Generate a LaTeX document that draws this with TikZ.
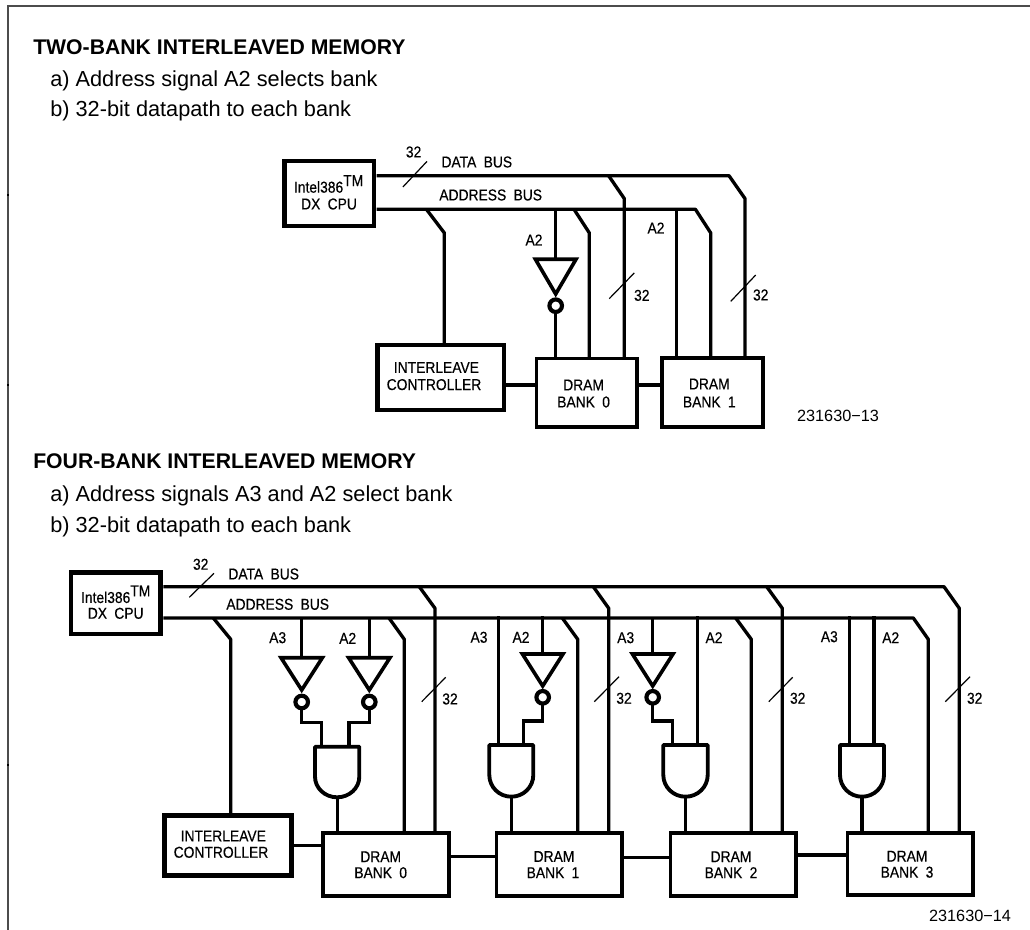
\documentclass[tikz,border=0pt]{standalone}
\usepackage{fontspec}
\setmainfont{Liberation Sans}
\newfontfamily\figfam[FakeBold=0.35,FakeStretch=0.88,WordSpace=1.9]{Liberation Sans}
\usetikzlibrary{calc}
\tikzset{
  thickbox/.style={draw=black,line width=3.4pt,rectangle,inner sep=0pt,align=center,fill=white},
  bankbox/.style={draw=black,line width=2.9pt,rectangle,inner sep=0pt,fill=white},
  bus/.style={draw=black,line width=2.5pt,line join=round},
  wire/.style={draw=black,line width=2.3pt,line join=miter},
  tick/.style={draw=black,line width=0.9pt},
  lbl/.style={font=\figfont,inner sep=0pt,text=black},
  head/.style={font=\headfont,anchor=base west,inner sep=0pt},
  sub/.style={font=\subfont,anchor=base west,inner sep=0pt},
  ref/.style={font=\reffont,inner sep=0pt},
  tri/.style={draw=black,line width=2.7pt,line join=miter,fill=white},
  bub/.style={draw=black,circle,line width=3.1pt,fill=white,minimum size=9.4pt,inner sep=0pt},
  andg/.style={draw=black,line width=2.9pt,line join=round,fill=white},
}
\newcommand{\figfont}{\figfam\fontsize{11.8}{13}\selectfont}
\newcommand{\headfont}{\fontsize{15.9}{18}\bfseries\selectfont}
\newcommand{\subfont}{\fontsize{16.3}{18}\selectfont}
\newcommand{\reffont}{\fontsize{12.2}{13}\selectfont}
\newcommand{\inverter}[6]{%
  \coordinate (#1in) at (#2,#3);
  \path[tri] (#2-#4,#3) -- (#2+#4,#3) -- (#2,#5) -- cycle;
  \node[bub] (#1b) at (#2,#6) {};
}
\newcommand{\andgate}[6]{%
  \path[andg] (#2,#4) -- (#3,#4) -- (#3,#5) arc[start angle=0,end angle=180,x radius={(#3-#2)/2},y radius={#6-#5}] -- cycle;
  \coordinate (#1out) at ($(#2,#6)!0.5!(#3,#6)$);
}
\begin{document}
\begin{tikzpicture}[x=0.75pt,y=-0.75pt]
\useasboundingbox (0,0) rectangle (1030,930);
\draw[color=black!70,line width=1.1pt] (8,930) -- (8,6) -- (1030,6);
\foreach \yy in {195,385,765} \draw[black,line width=0.8pt] (7,\yy) -- (9,\yy);

\node[head] (h1) at (33,55) {TWO-BANK INTERLEAVED MEMORY};
\node[sub] (h1a) at (50,87) {a) Address signal A2 selects bank};
\node[sub] (h1b) at (50,117) {b) 32-bit datapath to each bank};
\node[head] (h2) at (33,468) {FOUR-BANK INTERLEAVED MEMORY};
\node[sub] (h2a) at (50,501) {a) Address signals A3 and A2 select bank};
\node[sub] (h2b) at (50,532) {b) 32-bit datapath to each bank};

% ---------- two-bank ----------
\coordinate (dA) at (376.5,175.7);
\coordinate (aA) at (376.5,209.3);
\coordinate (dA1) at (608.6,175.7);
\coordinate (dA2) at (729,175.7);
\coordinate (aA0) at (426.4,209.3);
\coordinate (aA1) at (555.7,209.3);
\coordinate (aA2) at (574,209.3);
\coordinate (aA3) at (676.4,209.3);
\coordinate (aA4) at (695.4,209.3);
\coordinate (linkA) at (0,385);
\draw[bus] (dA) -- (dA2) -- (745,198.6) -- (745,357);
\draw[bus] (dA1) -- (624.3,198.6) -- (624.3,357);
\draw[bus] (aA) -- (aA4) -- (710.7,232.9) -- (710.7,357);
\draw[bus] (aA0) -- (444.3,232.9) -- (444.3,345);
\draw[bus] (aA2) -- (589.3,232.9) -- (589.3,357);
\draw[wire] (aA3) -- (676.4,357);
\draw[bus] (aA1) -- (555.7,262);
\draw[bus] (555.7,305) -- (555.7,357);
\inverter{iA}{555.7}{259.3}{20.3}{294}{305.7}
\node[thickbox,minimum width=67pt,minimum height=49pt] (cpuA) at (329.2,193.5) {};
\node[thickbox,minimum width=95pt,minimum height=49pt] (ctlA) at (440.8,377.5) {};
\node[bankbox,minimum width=75.5pt,minimum height=51.5pt] (b0A) at (586.8,392.8) {};
\node[bankbox,minimum width=75.5pt,minimum height=51.5pt] (b1A) at (712.5,392.5) {};
\draw[bus] (ctlA.east |- linkA) -- (b0A.west |- linkA);
\draw[bus] (b0A.east |- linkA) -- (b1A.west |- linkA);
\draw[tick] (402.9,187) -- (427,161.4);
\draw[tick] (609.3,298.6) -- (634.3,272.9);
\draw[tick] (730.7,301.4) -- (755.7,275);
\node[lbl] (t1) at (413.6,152) {32};
\node[lbl] (t2) at (476.8,162) {DATA BUS};
\node[lbl] (t3) at (490.7,195) {ADDRESS BUS};
\node[lbl] (t4) at (534,240) {A2};
\node[lbl] (t5) at (656,228) {A2};
\node[lbl] (t6) at (641.8,295.4) {32};
\node[lbl] (t7) at (760.7,295) {32};
\node[lbl] (t8) at (328.6,184) {Intel386\raisebox{0.42em}{TM}};
\node[lbl] (t9) at (329,204) {DX CPU};
\node[lbl] (t10) at (436.4,367.5) {INTERLEAVE};
\node[lbl] (t11) at (434,384.6) {CONTROLLER};
\node[lbl] (t12) at (583.6,385) {DRAM};
\node[lbl] (t13) at (583.6,402) {BANK 0};
\node[lbl] (t14) at (709.3,384) {DRAM};
\node[lbl] (t15) at (709.3,402) {BANK 1};
\node[ref] (r1) at (838,416) {231630−13};

% ---------- four-bank ----------
\coordinate (d) at (163.3,586.7);
\coordinate (a) at (163.3,618);
\coordinate (d0) at (419.3,586.7);
\coordinate (d1) at (593.3,586.7);
\coordinate (d2) at (766.7,586.7);
\coordinate (d3) at (944,586.7);
\coordinate (ac) at (213.3,618);
\coordinate (a0) at (389,618);
\coordinate (a1) at (562.3,618);
\coordinate (a2) at (735.7,618);
\coordinate (a3) at (913.3,618);
\draw[bus] (d) -- (d3) -- (959.3,608.3) -- (959.3,832);
\draw[bus] (d0) -- (435,608.3) -- (435,832);
\draw[bus] (d1) -- (608.7,608.3) -- (608.7,832);
\draw[bus] (d2) -- (782.3,608.3) -- (782.3,832);
\draw[bus] (a) -- (a3) -- (928.3,639.3) -- (928.3,832);
\draw[bus] (ac) -- (230.7,639.3) -- (230.7,814);
\draw[bus] (a0) -- (404.3,639.3) -- (404.3,832);
\draw[bus] (a1) -- (577.7,639.3) -- (577.7,832);
\draw[bus] (a2) -- (751.3,639.3) -- (751.3,832);
% bank 0 select
\draw[wire] (301.7,618) -- (301.7,660);
\draw[wire] (369.3,618) -- (369.3,660);
\draw[wire] (301.7,702) -- (301.7,722.3) -- (321.7,722.3) -- (321.7,748);
\draw[wire] (369.3,702) -- (369.3,722.3) -- (349,722.3) -- (349,748);
\inverter{i0}{301.7}{657.7}{20.7}{690}{702}
\inverter{i1}{369.3}{657.7}{20.7}{690}{702}
\andgate{g0}{315}{359.3}{746.7}{776.7}{797.3}
\draw[wire] (g0out) -- (g0out |- 0,832);
% bank 1 select
\draw[wire] (498.3,616) -- (498.3,746);
\draw[wire] (542.7,616) -- (542.7,656);
\draw[wire] (542.7,697) -- (542.7,721) -- (523.3,721) -- (523.3,746);
\inverter{i2}{542.7}{654}{20.3}{686}{697.3}
\andgate{g1}{489.3}{533.3}{745}{775}{796.7}
\draw[wire] (g1out) -- (g1out |- 0,832);
% bank 2 select
\draw[wire] (652.7,618) -- (652.7,656);
\draw[wire] (697.7,616) -- (697.7,746);
\draw[wire] (652.7,697) -- (652.7,721) -- (672.7,721) -- (672.7,746);
\inverter{i3}{652.7}{654}{20.3}{686}{697.3}
\andgate{g2}{663.3}{707.7}{745}{775}{796.7}
\draw[wire] (g2out) -- (g2out |- 0,832);
% bank 3 select
\draw[wire] (849.3,616) -- (849.3,746);
\draw[wire] (874,616) -- (874,746);
\andgate{g3}{840}{884}{745}{775}{796.7}
\draw[wire] (g3out) -- (g3out |- 0,832);
% boxes
\node[thickbox,minimum width=67pt,minimum height=46pt] (cpuB) at (115.8,603.4) {};
\node[thickbox,minimum width=95pt,minimum height=45pt] (ctlB) at (228,845.3) {};
\node[bankbox,minimum width=94pt,minimum height=47pt] (b0) at (386,864.7) {};
\node[bankbox,minimum width=94pt,minimum height=47pt] (b1) at (559.2,864.7) {};
\node[bankbox,minimum width=94pt,minimum height=47pt] (b2) at (733.2,864.7) {};
\node[bankbox,minimum width=94pt,minimum height=47pt] (b3) at (910.2,864) {};
\draw[bus] (ctlB.east) -- (ctlB.east -| b0.west);
\draw[bus] (b0.east |- 0,856.7) -- (b1.west |- 0,856.7);
\draw[bus] (b1.east |- 0,857.7) -- (b2.west |- 0,857.7);
\draw[bus] (b2.east |- 0,855) -- (b3.west |- 0,855);
\draw[tick] (189.3,597.3) -- (214,573.3);
\draw[tick] (421.7,701.7) -- (445.7,677.3);
\draw[tick] (594.3,701.7) -- (619,676.7);
\draw[tick] (768.7,701.7) -- (792.7,677.3);
\draw[tick] (945.3,701.7) -- (970,676.7);
\node[lbl] (u1) at (200.7,564.3) {32};
\node[lbl] (u2) at (263.7,574) {DATA BUS};
\node[lbl] (u3) at (277.7,604.3) {ADDRESS BUS};
\node[lbl] (u4) at (115.7,594.3) {Intel386\raisebox{0.42em}{TM}};
\node[lbl] (u5) at (115.7,613.3) {DX CPU};
\node[lbl] (u6) at (223.3,836) {INTERLEAVE};
\node[lbl] (u7) at (221,852.3) {CONTROLLER};
\node[lbl] (u8) at (277.7,637.7) {A3};
\node[lbl] (u9) at (347.7,638.3) {A2};
\node[lbl] (u10) at (479,637.3) {A3};
\node[lbl] (u11) at (521,637.3) {A2};
\node[lbl] (u12) at (625.7,637.7) {A3};
\node[lbl] (u13) at (714,637.7) {A2};
\node[lbl] (u14) at (829.3,636.7) {A3};
\node[lbl] (u15) at (890.7,637.7) {A2};
\node[lbl] (u16) at (450,699) {32};
\node[lbl] (u17) at (624,698.3) {32};
\node[lbl] (u18) at (797.7,698.3) {32};
\node[lbl] (u19) at (974.7,698.3) {32};
\node[lbl] (v0) at (380.7,856.7) {DRAM};
\node[lbl] (v1) at (380.7,872.7) {BANK 0};
\node[lbl] (v2) at (554,856.5) {DRAM};
\node[lbl] (v3) at (553,872.7) {BANK 1};
\node[lbl] (v4) at (731,856.7) {DRAM};
\node[lbl] (v5) at (731,872.7) {BANK 2};
\node[lbl] (v6) at (907,856.2) {DRAM};
\node[lbl] (v7) at (907,872.2) {BANK 3};
\node[ref] (r2) at (970,915.7) {231630−14};
\end{tikzpicture}
\end{document}
